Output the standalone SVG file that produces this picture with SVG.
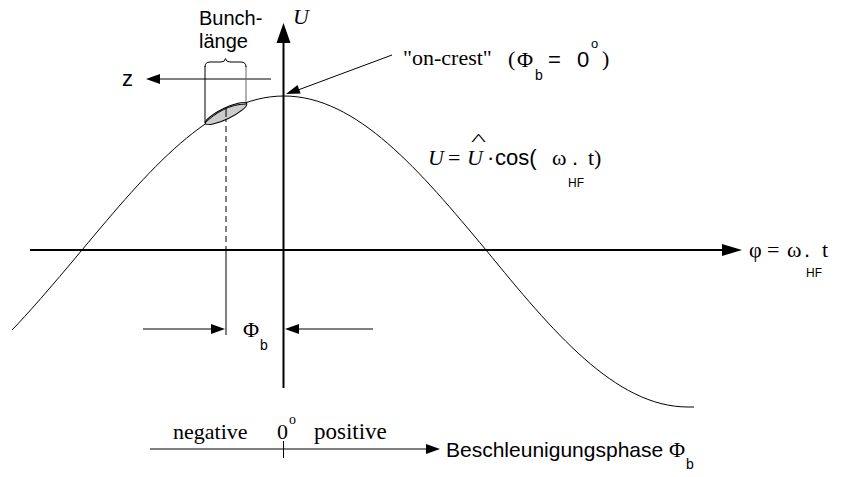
<svg xmlns="http://www.w3.org/2000/svg" width="841" height="477" viewBox="0 0 841 477">
<style>
.ln{stroke:#000;stroke-width:1;fill:none}
.ax{stroke:#000;stroke-width:2;fill:none}
.hd{fill:#000;stroke:none}
.sans{font-family:"Liberation Sans",Arial,sans-serif;fill:#000}
.serif{font-family:"Liberation Serif","Times New Roman",serif;fill:#000}
.it{font-style:italic}
</style>
<rect width="841" height="477" fill="#fff"/>
<g id="connectors">
  <line class="ax" x1="30" y1="250" x2="724" y2="250"/>
  <polygon class="hd" points="742,250 722,244 722,256"/>
  <line class="ax" x1="283.5" y1="388" x2="283.5" y2="40"/>
  <polygon class="hd" points="283.5,23 276.5,43 290.5,43"/>
  <line class="ln" x1="271" y1="79" x2="158" y2="79"/>
  <polygon class="hd" points="146,79 160,74 160,84"/>
  <line class="ln" x1="392" y1="55" x2="298" y2="90"/>
  <polygon class="hd" points="286,94 300.6,93.4 297.5,85"/>
  <line class="ln" x1="143" y1="329" x2="213" y2="329"/>
  <polygon class="hd" points="225,329 211,324 211,334"/>
  <line class="ln" x1="297" y1="329" x2="373" y2="329"/>
  <polygon class="hd" points="285,329 299,324 299,334"/>
  <line class="ln" x1="205" y1="66" x2="205" y2="123"/>
  <line x1="246" y1="66" x2="246" y2="104" stroke="#666" stroke-width="1"/>
  <line class="ln" x1="226" y1="116" x2="226" y2="250" stroke-dasharray="6,4"/>
  <line class="ln" x1="226" y1="250" x2="226" y2="335"/>
  <line class="ln" x1="150" y1="449" x2="428" y2="449"/>
  <polygon class="hd" points="440,449 426,444 426,454"/>
  <line class="ln" x1="283.5" y1="441" x2="283.5" y2="458"/>
</g>
<g id="curve">
  <path class="ln" d="M12,330 Q34.1,307.4 82,250 C147.9,171.1 210.9,96 284,96 C357.1,96 420.1,171.1 486,250 C551.9,330.4 614.9,407 688,407 L694,407"/>
</g>
<g id="bunch">
  <ellipse cx="226" cy="113.5" rx="23" ry="5.5" transform="rotate(-25.6 226 113.5)" fill="#cccccc" stroke="#000" stroke-width="1"/>
  <path class="ln" d="M205,123 C215,113 230,104 246,104"/>
  <line class="ln" x1="226" y1="108" x2="226" y2="117"/>
  <path class="ln" d="M205,67 Q205,62 210,62 L221,62 Q225,62 225.5,58.5 Q226,62 230,62 L241,62 Q246,62 246,67"/>
  <text class="sans" x="199" y="25" font-size="20">Bunch-</text>
  <text class="sans" x="199" y="48" font-size="20">länge</text>
</g>
<g id="z-label">
  <text class="sans" x="122" y="86" font-size="22">z</text>
</g>
<g id="U-label">
  <text class="serif it" x="293" y="24" font-size="22">U</text>
</g>
<g id="on-crest">
  <text class="serif" x="403" y="65" font-size="22">"on-crest"</text>
  <text class="serif" x="508" y="66" font-size="22">(</text>
  <text class="serif" x="517" y="67" font-size="22">Φ</text>
  <text class="sans" x="535" y="80" font-size="14">b</text>
  <text class="sans" x="548" y="67" font-size="22">=</text>
  <text class="sans" x="577" y="67" font-size="22">0</text>
  <text class="sans" x="591" y="48" font-size="13">o</text>
  <text class="serif" x="602" y="66" font-size="22">)</text>
</g>
<g id="formula">
  <text class="serif it" x="428" y="165" font-size="22">U</text>
  <text class="serif" x="448" y="165" font-size="22">=</text>
  <text class="serif it" x="467" y="165" font-size="22">U</text>
  <text class="serif" transform="translate(478.5,145) scale(1.6,0.8)" text-anchor="middle" font-size="20">^</text>
  <text class="sans" x="487" y="165" font-size="22">·</text>
  <text class="sans" x="495" y="165" font-size="22">cos(</text>
  <text class="serif" x="552" y="165" font-size="22">ω</text>
  <text class="sans" x="572" y="165" font-size="22">.</text>
  <text class="sans" x="568" y="187" font-size="12">HF</text>
  <text class="serif" x="588" y="165" font-size="22">t)</text>
</g>
<g id="phase-label">
  <text class="serif" x="749" y="257" font-size="22">φ</text>
  <text class="serif" x="767" y="257" font-size="22">=</text>
  <text class="serif" x="787" y="257" font-size="22">ω</text>
  <text class="sans" x="804" y="257" font-size="22">.</text>
  <text class="sans" x="806" y="277" font-size="12">HF</text>
  <text class="serif" x="822" y="257" font-size="22">t</text>
</g>
<g id="phib-label">
  <text class="serif" x="243" y="337" font-size="22">Φ</text>
  <text class="sans" x="260" y="350" font-size="14">b</text>
</g>
<g id="bottom-axis-labels">
  <text class="serif" x="173" y="439" font-size="22">negative</text>
  <text class="serif" x="277" y="439" font-size="22">0</text>
  <text class="serif" x="289" y="424" font-size="14">o</text>
  <text class="serif" x="314" y="439" font-size="23">positive</text>
  <text class="sans" x="446" y="457" font-size="21">Beschleunigungsphase</text>
  <text class="serif" x="669" y="457" font-size="22">Φ</text>
  <text class="sans" x="686" y="469" font-size="14">b</text>
</g>
</svg>
